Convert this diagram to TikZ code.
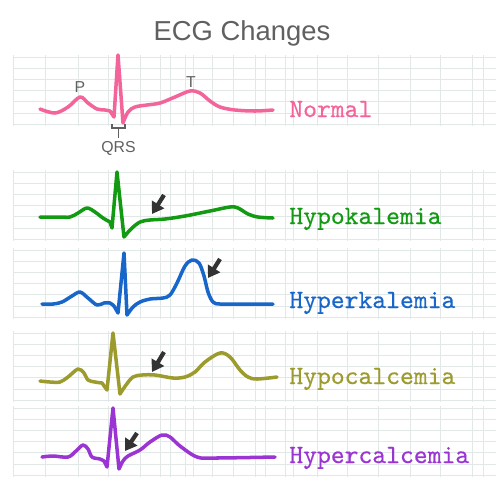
\documentclass[tikz,border=0pt]{standalone}
\usepackage{fontspec}
\setmainfont{Liberation Sans}
\newfontfamily\condfont[FakeBold=0.4]{lmmono10-regular.otf}
\usetikzlibrary{arrows.meta}

\definecolor{ecgpink}{HTML}{F2649A}
\definecolor{ecggreen}{HTML}{129A12}
\definecolor{ecgblue}{HTML}{1866C9}
\definecolor{ecgolive}{HTML}{9C9B2E}
\definecolor{ecgpurple}{HTML}{9A35D3}
\definecolor{gridgray}{HTML}{E2E8E8}
\definecolor{titlegray}{HTML}{606060}

\begin{document}
\begin{tikzpicture}[x=0.02cm, y=-0.02cm,
  wave/.style={line width=2pt, line cap=round, line join=round},
  cond/.style={anchor=base west, inner sep=0pt, font=\condfont\fontsize{15}{17}\selectfont},
  wavelabel/.style={inner sep=0pt, anchor=base, text=titlegray, font=\fontsize{9}{10}\selectfont},
  pointer/.style={line width=2.4pt, draw=black!80, -{Triangle[length=6.5pt,width=8pt]}},
  gridline/.style={draw=gridgray, line width=0.5pt}]

\useasboundingbox[fill=white] (0,0) rectangle (500,488);

% grid strips
\foreach \top in {57,172,250,333,408} {
  \foreach \k in {0,...,6}
    \draw[gridline] (13,\top+11.2*\k) -- (496,\top+11.2*\k);
  \foreach \gx in {13,45,78,108,140,160,170,185,193,212,233,255,265,285,293,317,347,378,410,440,472,483}
    \draw[gridline] (\gx,\top-2) -- (\gx,\top+69);
}

\node[anchor=base, inner sep=0pt, text=titlegray, font=\fontsize{15.6}{18}\selectfont] (title) at (242,40) {ECG Changes};

% normal
\draw[wave, ecgpink] plot[smooth, tension=0.55] coordinates {(40,109) (55,113) (68,107) (80,97) (88,103) (97,109) (105,110) (110,111)}
  -- (114,117) -- (118,55) -- (123,123)
  -- plot[smooth, tension=0.55] coordinates {(123,123) (128,112) (135,107) (147,105) (160,103) (175,97) (190,91) (200,93) (210,101) (220,107) (235,110) (255,111) (273,110)};
\node[wavelabel] (plabel) at (80,92) {P};
\node[wavelabel] (tlabel) at (191,87) {T};
\node[wavelabel] (qrs) at (118.5,152) {QRS};
\coordinate (qrsmid) at (118.5,128);
\draw[titlegray, line width=0.7pt] (112,124) |- (125,128) -- (125,124);
\draw[titlegray, line width=0.7pt] (qrsmid) -- ([yshift=1.5pt]qrs.north);
\node[cond, text=ecgpink] (normal) at (289,117) {Normal};

% hypokalemia
\draw[wave, ecggreen] plot[smooth, tension=0.55] coordinates {(40,217) (58,217) (70,217) (78,213) (87,208) (95,212) (103,218) (110,222)}
  -- (112,228) -- (117,172) -- (124,237)
  -- plot[smooth, tension=0.55] coordinates {(124,237) (131,229) (140,222) (150,220) (165,219) (185,216) (210,211) (230,207) (238,208) (248,214) (258,217) (273,218)};
\coordinate (hypoktail) at (164,195);
\coordinate (hypoktip) at (152,214);
\draw[pointer] (hypoktail) -- (hypoktip);
\node[cond, text=ecggreen] (hypok) at (289,224) {Hypokalemia};

% hyperkalemia
\draw[wave, ecgblue] plot[smooth, tension=0.55] coordinates {(42,304) (53,304) (62,302) (72,296) (80,292) (88,298) (97,305) (104,303) (110,303) (114,306)}
  -- (118,313) -- (124,253) -- (127,315)
  -- plot[smooth, tension=0.55] coordinates {(127,315) (133,307) (140,302) (150,299) (163,298) (170,295) (177,283) (185,266) (192,260) (199,263) (204,276) (208,292) (213,302) (220,304) (240,304) (273,304)};
\coordinate (hyperktail) at (220,259);
\coordinate (hyperktip) at (208,278);
\draw[pointer] (hyperktail) -- (hyperktip);
\node[cond, text=ecgblue] (hyperk) at (289,308) {Hyperkalemia};

% hypocalcemia
\draw[wave, ecgolive] plot[smooth, tension=0.55] coordinates {(40,381) (50,382) (60,382) (68,377) (78,369) (84,373) (88,380) (95,382) (102,383)}
  -- (107,390) -- (113,333) -- (120,394)
  -- plot[smooth, tension=0.55] coordinates {(120,394) (126,385) (133,377) (142,375) (155,375) (173,378) (185,377) (195,372) (205,362) (220,353) (230,357) (240,370) (248,377) (257,379) (277,377)};
\coordinate (hypocatail) at (164,352);
\coordinate (hypocatip) at (152,372);
\draw[pointer] (hypocatail) -- (hypocatip);
\node[cond, text=ecgolive] (hypoca) at (289,384) {Hypocalcemia};

% hypercalcemia
\draw[wave, ecgpurple] plot[smooth, tension=0.55] coordinates {(42,457) (53,456) (68,457) (76,451) (83,445) (88,449) (92,457) (100,459) (104,461)}
  -- (107,467) -- (113,408) -- (119,469)
  -- plot[smooth, tension=0.55] coordinates {(119,469) (123,461) (128,456) (140,450) (150,442) (162,435) (170,437) (180,446) (197,457) (215,458) (275,457)};
\coordinate (hypercatail) at (137,433);
\coordinate (hypercatip) at (125,451);
\draw[pointer] (hypercatail) -- (hypercatip);
\node[cond, text=ecgpurple] (hyperca) at (289,463) {Hypercalcemia};
\end{tikzpicture}
\end{document}
